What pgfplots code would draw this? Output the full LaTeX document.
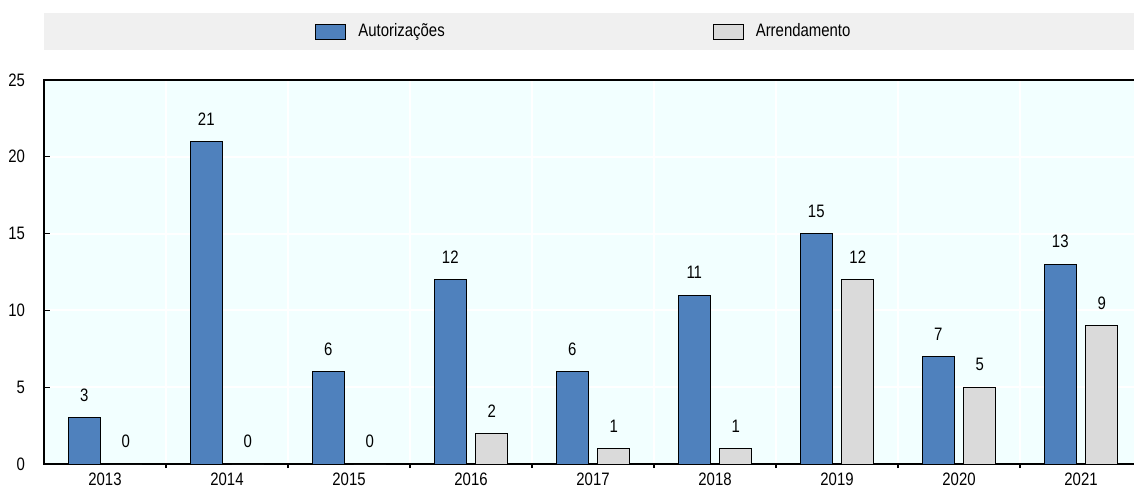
\documentclass[border=0pt]{standalone}
\usepackage{fontspec}
\setmainfont{Liberation Sans}[FakeStretch=0.83]
\usepackage{pgfplots}
\pgfplotsset{compat=1.18}
\definecolor{barblue}{HTML}{4F81BD}
\definecolor{bargray}{HTML}{DADADA}
\definecolor{plotbg}{HTML}{F2FFFF}
\definecolor{legbg}{HTML}{F0F0F0}
\newcommand{\fs}{\fontsize{9}{10.5}\selectfont}
\begin{document}
\begin{tikzpicture}
\begin{axis}[
  at={(0pt,0pt)}, anchor=south west,
  scale only axis,
  width=545.95pt, height=192pt,
  xmin=-0.5, xmax=8.45,
  ymin=0, ymax=25,
  ytick={0,5,...,25},
  xtick={0,...,8},
  xticklabels={2013,2014,2015,2016,2017,2018,2019,2020,2021},
  minor xtick={0.5,1.5,...,7.5},
  xminorgrids, ymajorgrids,
  minor grid style={white, line width=1pt},
  major grid style={white, line width=1pt},
  major x tick style={draw=none},
  minor tick length=2pt,
  major tick length=3pt,
  tick style={black, line width=0.6pt},
  tick pos=left,
  axis line style={black, line width=1pt},
  axis background/.style={fill=plotbg},
  ybar=4.75pt, bar width=16pt,
  /pgf/number format/assume math mode=true,
  ticklabel style={font=\fs},
  yticklabel style={xshift=-6pt},
  xticklabel style={yshift=2pt},
  nodes near coords,
  every node near coord/.append style={font=\fs, black, yshift=4.5pt},
  clip=false,
  legend columns=2,
  legend style={at={(axis description cs:0.4954,1.126)}, anchor=center,
    draw=none, fill=none, font=\fs,
    /tikz/every even column/.append style={column sep=132pt}},
  legend image code/.code={\draw[#1, line width=0.5pt] (0pt,-3.75pt) rectangle (15pt,3.75pt); \path (19pt,0pt);},
]
\fill[legbg] (axis description cs:0,1.078) rectangle (axis description cs:1.05,1.174);
\addplot[fill=barblue, draw=black, line width=0.5pt] coordinates {
 (0,3) (1,21) (2,6) (3,12) (4,6) (5,11) (6,15) (7,7) (8,13)};
\addplot[fill=bargray, draw=black, line width=0.5pt] coordinates {
 (0,0) (1,0) (2,0) (3,2) (4,1) (5,1) (6,12) (7,5) (8,9)};
\legend{Autorizações, Arrendamento}
\end{axis}
\pgfresetboundingbox
\path[use as bounding box] (-22pt,-12pt) rectangle (545pt,232pt);
\end{tikzpicture}
\end{document}
